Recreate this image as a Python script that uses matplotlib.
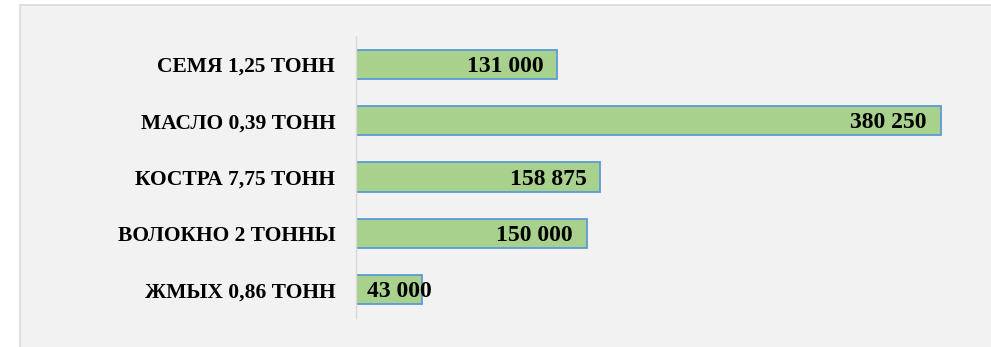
import matplotlib.pyplot as plt
from matplotlib.patches import Rectangle

categories = ['СЕМЯ 1,25 ТОНН', 'МАСЛО 0,39 ТОНН', 'КОСТРА 7,75 ТОНН',
              'ВОЛОКНО 2 ТОННЫ', 'ЖМЫХ 0,86 ТОНН']
values = [131000, 380250, 158875, 150000, 43000]

plt.rcParams['font.family'] = ['Liberation Serif', 'DejaVu Serif']

fig = plt.figure(figsize=(9.91, 3.47), dpi=100)
fig.patch.set_facecolor('white')

# grey chart area with thin border
fig.add_artist(Rectangle((20 / 991, -0.01), 1.0, 1 - 5 / 347 + 0.01,
                         transform=fig.transFigure, facecolor='#f2f2f2',
                         edgecolor='#d9d9d9', linewidth=1.2, zorder=0))

ax = fig.add_axes([356 / 991, 29 / 347, 615 / 991, 282 / 347])
ax.set_facecolor('none')
ax.set_zorder(2)

ypos = list(range(len(categories)))
ax.barh(ypos, values, height=0.52, color='#a9d18e', edgecolor='#5b9bd5',
        linewidth=1.3)
ax.set_ylim(4.5, -0.5)
ax.set_xlim(0, 400000)

ax.set_yticks(ypos)
ax.set_yticklabels(categories, fontsize=15.5, fontweight='bold')
ax.tick_params(axis='y', length=0, pad=15)
ax.set_xticks([])

for s in ['top', 'right', 'bottom']:
    ax.spines[s].set_visible(False)
ax.spines['left'].set_color('#d9d9d9')
ax.spines['left'].set_linewidth(1)

for y, v in zip(ypos, values):
    txt = f'{v:,}'.replace(',', ' ')
    if v < 0.2 * max(values):
        ax.annotate(txt, (0, y), xytext=(8, -1.5), textcoords='offset points',
                    ha='left', va='center', fontsize=17, fontweight='bold')
    else:
        ax.annotate(txt, (v, y), xytext=(-10, -1.5), textcoords='offset points',
                    ha='right', va='center', fontsize=17, fontweight='bold')

fig.savefig('out.png', dpi=100)
